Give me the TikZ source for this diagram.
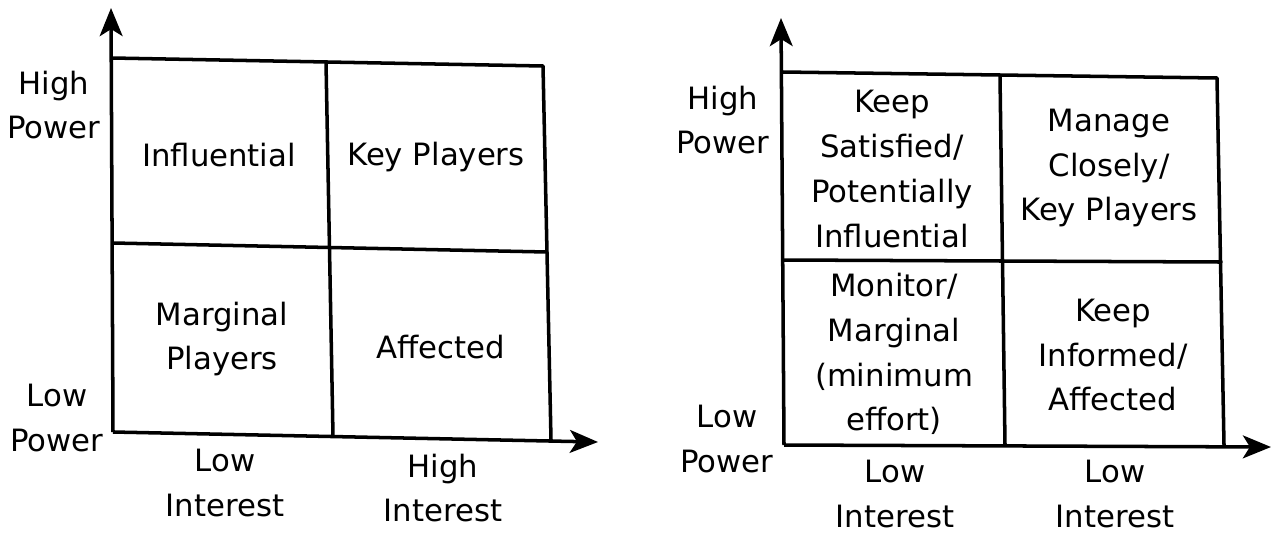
\documentclass[tikz,border=0pt]{standalone}
\usepackage{fontspec}
\setmainfont{DejaVu Sans}
\usetikzlibrary{arrows.meta}
\begin{document}
\begin{tikzpicture}[x=0.02cm,y=-0.02cm,
  gridline/.style={line width=2pt, line join=round, line cap=round},
  axisline/.style={line width=2pt, -{Stealth[length=16pt,width=13pt,inset=4pt]}},
  lbl/.style={align=center, font=\fontsize{17.5}{25.5}\selectfont, inner sep=0pt}]
\useasboundingbox (0,0) rectangle (1274,535);

% ---------- left matrix ----------
\coordinate (LO)  at (113,432);
\coordinate (LYt) at (111,8);
\coordinate (LXt) at (598,442);
\coordinate (LTL) at (112,58);
\coordinate (LTM) at (326,62);
\coordinate (LTR) at (543,66);
\coordinate (LML) at (113,243);
\coordinate (LMR) at (547,252);
\coordinate (LBR) at (551,440);
\coordinate (LBM) at (333,436);

\draw[axisline] (LO) -- (LYt);
\draw[axisline] (LO) -- (LXt);
\draw[gridline] (LTL) -- (LTR) -- (LBR);
\draw[gridline] (LML) -- (LMR);
\draw[gridline] (LTM) -- (LBM);

\node[lbl] (lhp) at (54,105) {High\\Power};
\node[lbl] (llp) at (57,418) {Low\\Power};
\node[lbl] (linf) at (219,155) {Influential};
\node[lbl] (lkey) at (436,157) {Key Players};
\node[lbl] (lmar) at (222,339) {Marginal\\Players};
\node[lbl] (laff) at (441,347) {Affected};
\node[lbl] (lli) at (225,483) {Low\\Interest};
\node[lbl] (lhi) at (443,488) {High\\Interest};

% ---------- right matrix ----------
\coordinate (RO)  at (784,445);
\coordinate (RYt) at (781,18);
\coordinate (RXt) at (1271,447);
\coordinate (RTL) at (783,72);
\coordinate (RTM) at (1000,76);
\coordinate (RTR) at (1217,78);
\coordinate (RML) at (784,260);
\coordinate (RMR) at (1221,262);
\coordinate (RBR) at (1224,445);
\coordinate (RBM) at (1005,445);

\draw[axisline] (RO) -- (RYt);
\draw[axisline] (RO) -- (RXt);
\draw[gridline] (RTL) -- (RTR) -- (RBR);
\draw[gridline] (RML) -- (RMR);
\draw[gridline] (RTM) -- (RBM);

\node[lbl] (rhp) at (723,120) {High\\Power};
\node[lbl] (rlp) at (727,439) {Low\\Power};
\node[lbl] (rks) at (892,169) {Keep\\Satisfied/\\Potentially\\Influential};
\node[lbl] (rmc) at (1109,168) {Manage\\Closely/\\Key Players};
\node[lbl] (rmo) at (894,354) {Monitor/\\Marginal\\(minimum\\effort)};
\node[lbl] (rki) at (1113,355) {Keep\\Informed/\\Affected};
\node[lbl] (rli1) at (895,494) {Low\\Interest};
\node[lbl] (rli2) at (1115,494) {Low\\Interest};
\end{tikzpicture}
\end{document}
